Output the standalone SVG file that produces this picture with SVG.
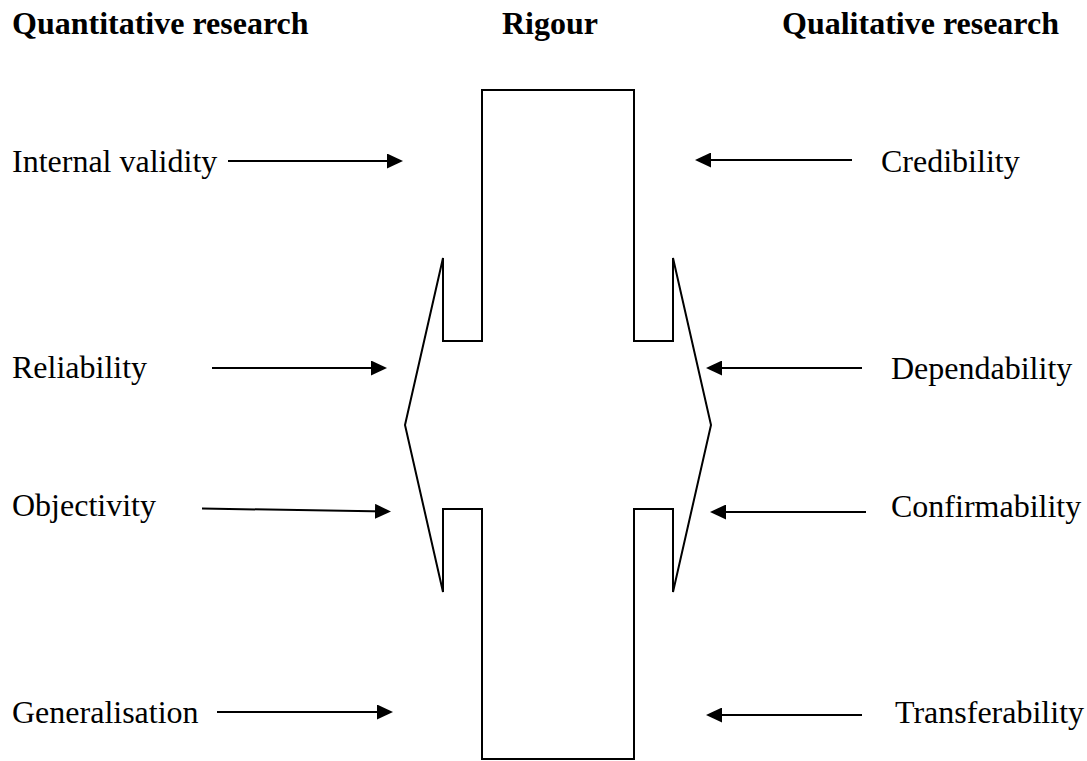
<svg xmlns="http://www.w3.org/2000/svg" width="1087" height="761" viewBox="0 0 1087 761">
  <style>
    .head { font-family: "Liberation Serif", "Times New Roman", serif; font-size: 32px; font-weight: bold; fill: #000; }
    .label { font-family: "Liberation Serif", "Times New Roman", serif; font-size: 32px; fill: #000; }
    .shape { fill: none; stroke: #000; stroke-width: 2; stroke-linejoin: miter; }
    .link { fill: none; stroke: #000; stroke-width: 2; marker-end: url(#arrow); }
  </style>
  <defs>
    <marker id="arrow" markerUnits="userSpaceOnUse" markerWidth="16" markerHeight="15" refX="12" refY="7.5" orient="auto">
      <path d="M0,0 L16,7.5 L0,15 z" fill="#000"/>
    </marker>
  </defs>
  <rect width="1087" height="761" fill="#fff"/>

  <!-- column headings -->
  <g id="headings">
    <text class="head" x="12" y="34">Quantitative research</text>
    <text class="head" x="502" y="34">Rigour</text>
    <text class="head" x="782" y="34">Qualitative research</text>
  </g>

  <!-- central rigour shape -->
  <g id="rigour">
    <path class="shape" d="M443,258 L443,341 L482,341 L482,90 L634,90 L634,341 L673,341 L673,258 L711,425 L673,592 L673,509 L634,509 L634,759 L482,759 L482,509 L443,509 L443,592 L405,425 Z"/>
  </g>

  <!-- quantitative criteria -->
  <g id="internal-validity"><text class="label" x="12" y="172">Internal validity</text></g>
  <g id="reliability"><text class="label" x="12" y="378">Reliability</text></g>
  <g id="objectivity"><text class="label" x="12" y="516">Objectivity</text></g>
  <g id="generalisation"><text class="label" x="12" y="723">Generalisation</text></g>

  <!-- qualitative criteria -->
  <g id="credibility"><text class="label" x="881" y="172">Credibility</text></g>
  <g id="dependability"><text class="label" x="891" y="379">Dependability</text></g>
  <g id="confirmability"><text class="label" x="891" y="517">Confirmability</text></g>
  <g id="transferability"><text class="label" x="895" y="723">Transferability</text></g>

  <!-- arrows into the rigour shape -->
  <g id="connectors">
    <line class="link" x1="228" y1="161" x2="399" y2="161"/>
    <line class="link" x1="212" y1="368" x2="383" y2="368"/>
    <line class="link" x1="202" y1="508.5" x2="387" y2="511.5"/>
    <line class="link" x1="217" y1="712" x2="389" y2="712"/>

    <line class="link" x1="852" y1="160" x2="699" y2="160"/>
    <line class="link" x1="862" y1="368" x2="710" y2="368"/>
    <line class="link" x1="866" y1="512" x2="714" y2="512"/>
    <line class="link" x1="862" y1="715" x2="710" y2="715"/>
  </g>
</svg>
